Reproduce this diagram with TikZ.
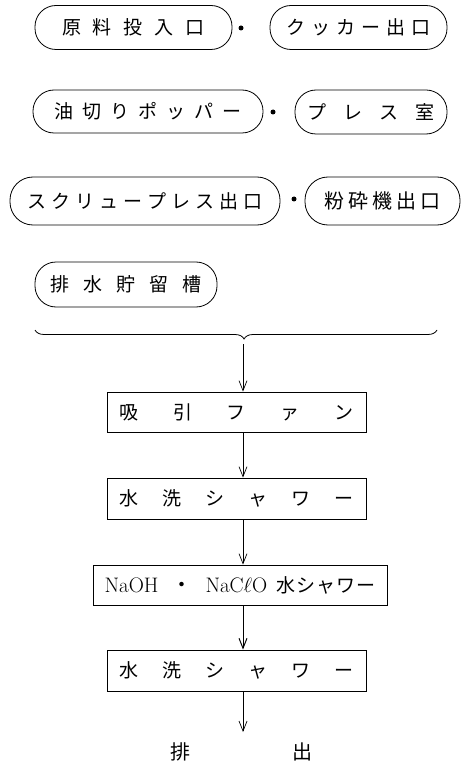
\documentclass[tikz,border=0pt]{standalone}
\usepackage{fontspec}
\newfontfamily\jp{Noto Sans CJK JP}
\usetikzlibrary{arrows.meta,decorations.pathreplacing}
\newcommand\kk[1]{\hspace{#1pt}}
\begin{document}
\begin{tikzpicture}[x=1pt,y=-1pt,
  pill/.style={draw,line width=0.8pt,rounded corners=21pt,inner sep=0pt,font=\jp\fontsize{19}{19}\selectfont},
  boxx/.style={draw,line width=0.8pt,inner sep=0pt,font=\jp\fontsize{19}{19}\selectfont},
  sep/.style={circle,fill,inner sep=0pt,minimum size=5pt},
  arr/.style={line width=0.7pt,-{Straight Barb[length=10pt,width=8pt]}},
  lbl/.style={font=\jp\fontsize{20}{20}\selectfont,inner sep=0pt}]
\useasboundingbox (0,0) rectangle (469,767);
% source pills
\node[pill,minimum width=197pt,minimum height=44pt] (p1) at (133.5,27.5) {原\kk{12}料\kk{12}投\kk{12}入\kk{12}口};
\node[sep] (d1) at (241,28) {};
\node[pill,minimum width=177pt,minimum height=44pt] (p2) at (358.5,27.5) {ク\kk{6}ッ\kk{6}カ\kk{6}ー\kk{6}出\kk{6}口};
\node[pill,minimum width=230pt,minimum height=43pt] (p3) at (148,111.5) {油\kk{9}切\kk{9}り\kk{9}ポ\kk{9}ッ\kk{9}パ\kk{9}ー};
\node[sep] (d2) at (273,112) {};
\node[pill,minimum width=152pt,minimum height=44pt] (p4) at (371,112) {プ\kk{17}レ\kk{17}ス\kk{17}室};
\node[pill,minimum width=270pt,minimum height=48pt,rounded corners=23pt] (p5) at (145,201) {ス\kk{5}ク\kk{5}リ\kk{5}ュ\kk{5}ー\kk{5}プ\kk{5}レ\kk{5}ス\kk{5}出\kk{5}口};
\node[sep] (d3) at (294,199) {};
\node[pill,minimum width=155pt,minimum height=48pt,rounded corners=23pt] (p6) at (382.5,201) {\fontsize{20}{20}\selectfont 粉\kk{4}砕\kk{4}機\kk{4}出\kk{4}口};
\node[pill,minimum width=182pt,minimum height=45pt] (p7) at (126,284.5) {排\kk{14}水\kk{14}貯\kk{14}留\kk{14}槽};
% brace
\coordinate (bl) at (35,330);
\coordinate (br) at (437,330);
\draw[line width=0.8pt,decorate,decoration={brace,mirror,amplitude=9pt,aspect=0.52}] (bl) -- (br);
\coordinate (bt) at (243,344);
% process boxes
\node[boxx,minimum width=259pt,minimum height=40pt] (b1) at (236.5,412) {吸\kk{35}引\kk{35}フ\kk{35}ァ\kk{35}ン};
\node[boxx,minimum width=259pt,minimum height=41pt] (b2) at (236.5,498.5) {水\kk{24}洗\kk{24}シ\kk{24}ャ\kk{24}ワ\kk{24}ー};
\node[boxx,minimum width=294pt,minimum height=40pt] (b3) at (240,585) {\rmfamily\fontsize{21}{21}\selectfont NaOH\kk{13}{\jp ・}\kk{13}NaC$\ell$O\kk{9}{\jp\fontsize{19}{19}\selectfont 水\kk{1}シ\kk{1}ャ\kk{1}ワ\kk{1}ー}};
\node[boxx,minimum width=259pt,minimum height=41pt] (b4) at (236.5,670.5) {水\kk{24}洗\kk{24}シ\kk{24}ャ\kk{24}ワ\kk{24}ー};
\coordinate (oe) at (243,732);
% connectors
\draw[arr] (bt) -- (bt |- b1.north);
\draw[arr] (b1.south -| bt) -- (b2.north -| bt);
\draw[arr] (b2.south -| bt) -- (b3.north -| bt);
\draw[arr,line width=1pt] (b3.south -| bt) -- (b4.north -| bt);
\draw[arr] (b4.south -| bt) -- (oe);
% exit label
\node[lbl] (e1) at (180,752) {排};
\node[lbl] (e2) at (302,752) {出};
\end{tikzpicture}
\end{document}
